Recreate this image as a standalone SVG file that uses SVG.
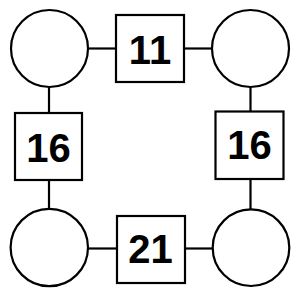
<svg xmlns="http://www.w3.org/2000/svg" width="300" height="300" viewBox="0 0 300 300">
<style>
.c{fill:#fff;stroke:#000;stroke-width:2.2}
.s{fill:#fff;stroke:#000;stroke-width:2.2}
.l{stroke:#000;stroke-width:2.2;fill:none}
.t{font-family:"Liberation Sans",Arial,sans-serif;font-weight:bold;font-size:40px;text-anchor:middle;fill:#000}
</style>
<rect width="300" height="300" fill="#fff"/>
<g id="connectors">
<line class="l" x1="88" y1="48.5" x2="116" y2="48.5"/>
<line class="l" x1="184" y1="48.5" x2="212" y2="48.5"/>
<line class="l" x1="49" y1="87" x2="49" y2="113"/>
<line class="l" x1="49" y1="180" x2="49" y2="209"/>
<line class="l" x1="250.5" y1="87" x2="250.5" y2="112"/>
<line class="l" x1="250.5" y1="179" x2="250.5" y2="209"/>
<line class="l" x1="88" y1="248.5" x2="117" y2="248.5"/>
<line class="l" x1="185" y1="248.5" x2="212.5" y2="248.5"/>
</g>
<g id="c1"><circle class="c" cx="49.5" cy="48.5" r="38.5"/></g>
<g id="c2"><circle class="c" cx="250.5" cy="48.5" r="38.5"/></g>
<g id="c3"><circle class="c" cx="49.3" cy="247.5" r="38.7"/></g>
<g id="c4"><circle class="c" cx="251" cy="247.7" r="38.3"/></g>
<g id="s-top"><rect class="s" x="116" y="15" width="68" height="67"/><text class="t" x="150" y="63.5">11</text></g>
<g id="s-left"><rect class="s" x="15" y="113" width="67" height="67"/><text class="t" x="48.5" y="161.5">16</text></g>
<g id="s-right"><rect class="s" x="215.5" y="111.5" width="68" height="67.5"/><text class="t" x="249.5" y="158.5">16</text></g>
<g id="s-bottom"><rect class="s" x="117" y="216" width="68" height="67"/><text class="t" x="150.5" y="262.5">21</text></g>
</svg>
